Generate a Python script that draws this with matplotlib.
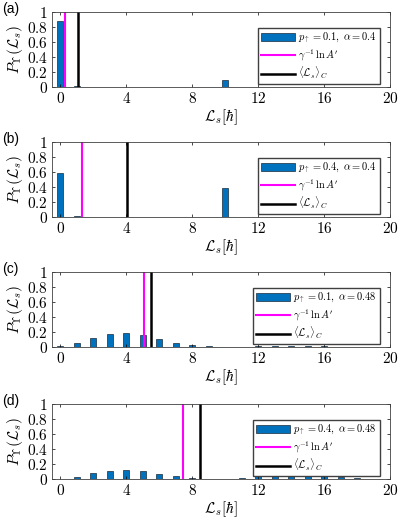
import numpy as np
import matplotlib
matplotlib.use('Agg')
import matplotlib.pyplot as plt

plt.rcParams['mathtext.fontset'] = 'cm'
plt.rcParams['font.family'] = ['DejaVu Serif']

L = np.arange(20)

prob_a = [0.88, 0.02, 0, 0, 0, 0, 0, 0, 0, 0, 0.10, 0, 0, 0, 0, 0, 0, 0, 0, 0]
prob_b = [0.59, 0.01, 0, 0, 0, 0, 0, 0, 0, 0, 0.39, 0.005, 0, 0, 0, 0, 0, 0, 0, 0]
prob_c = [0.01, 0.05, 0.115, 0.175, 0.19, 0.16, 0.105, 0.06, 0.03, 0.01,
          0.005, 0.005, 0.01, 0.02, 0.02, 0.02, 0.01, 0.005, 0.002, 0.001]
prob_d = [0.003, 0.03, 0.075, 0.11, 0.12, 0.105, 0.07, 0.04, 0.015, 0.003,
          0.003, 0.02, 0.045, 0.075, 0.08, 0.07, 0.045, 0.025, 0.01, 0.003]

panels = ['(a)', '(b)', '(c)', '(d)']
p_up = ['0.1', '0.4', '0.1', '0.4']
alphas = ['0.4', '0.4', '0.48', '0.48']
gamma_lnA = [0.3, 1.3, 5.05, 7.47]
mean_L = [1.08, 4.04, 5.5, 8.48]
probs = [prob_a, prob_b, prob_c, prob_d]

fig = plt.figure(figsize=(3.99, 5.2), dpi=100)
W, H = 399, 520
tops = [12, 142, 272, 404]

for i in range(4):
    left, right = 52, 390
    ax = fig.add_axes([left / W, 1 - (tops[i] + 75) / H, (right - left) / W, 75 / H])
    b = ax.bar(L, probs[i], width=0.36, color='#0072BD', edgecolor='#1a2a3a', linewidth=0.5)
    l1 = ax.axvline(gamma_lnA[i], color='#FF00FF', lw=1.5)
    l2 = ax.axvline(mean_L[i], color='black', lw=1.8)
    ax.set_xlim(-0.5, 20)
    ax.set_ylim(0, 1)
    ax.set_xticks([0, 4, 8, 12, 16, 20])
    ax.set_xticklabels(['$%d$' % v for v in [0, 4, 8, 12, 16, 20]], fontsize=11)
    ax.set_yticks([0, 0.2, 0.4, 0.6, 0.8, 1])
    ax.set_yticklabels(['$0$', '$0.2$', '$0.4$', '$0.6$', '$0.8$', '$1$'], fontsize=11)
    ax.tick_params(direction='in', top=True, right=True, length=2, width=0.5, pad=3)
    for s in ax.spines.values():
        s.set_linewidth(0.6)
        s.set_color('#404040')
    ax.set_xlabel(r'$\mathcal{L}_s[\hbar]$', fontsize=11, labelpad=1)
    ax.set_ylabel(r'$P_{\Upsilon}(\mathcal{L}_s)$', fontsize=11, labelpad=1)
    ax.legend([b, l1, l2],
              [r'$p_\uparrow=%s,\ \alpha=%s$' % (p_up[i], alphas[i]),
               r"$\gamma^{-1}\,\ln A'$", r'$\langle\mathcal{L}_s\rangle_C$'],
              loc='upper right', fontsize=7.5, frameon=True, fancybox=False,
              edgecolor='#404040', framealpha=1, handlelength=3.3, handleheight=0.9,
              handletextpad=0.3, borderpad=0.25, labelspacing=0.2,
              bbox_to_anchor=(0.985, 0.85))
    fig.text(2 / W, 1 - (tops[i] - 3) / H, panels[i], fontsize=10, family='Liberation Sans',
             va='center', ha='left')

fig.savefig('out.png', dpi=100)
